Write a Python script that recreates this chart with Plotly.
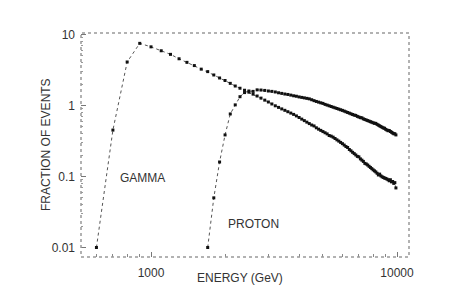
import plotly.graph_objects as go

# ---------------- data ----------------
gamma_energy = [600, 700, 800, 900, 1000, 1100, 1200, 1300, 1400, 1500,
                1600, 1700, 1800, 1900, 2000, 2100, 2200, 2300, 2400, 2500,
                2600, 2700, 2800, 2900, 3000, 3100, 3200, 3300, 3400, 3500,
                3600, 3700, 3800, 3900, 4000, 4100, 4200, 4300, 4400, 4500,
                4600, 4700, 4800, 4900, 5000, 5100, 5200, 5300, 5400, 5500,
                5600, 5700, 5800, 5900, 6000, 6100, 6200, 6300, 6400, 6500,
                6600, 6700, 6800, 6900, 7000, 7100, 7200, 7300, 7400, 7500,
                7600, 7700, 7800, 7900, 8000, 8100, 8200, 8300, 8400, 8500,
                8600, 8700, 8800, 8900, 9000, 9100, 9200, 9300, 9400, 9500,
                9600, 9700, 9800, 9900]
gamma_fraction = [0.010, 0.45, 4.1, 7.5, 6.7, 5.9, 5.25, 4.55, 4.05, 3.65,
                  3.25, 3.0, 2.69, 2.44, 2.25, 2.05, 1.88, 1.75, 1.64, 1.54,
                  1.445, 1.36, 1.27, 1.19, 1.12, 1.05, 0.99, 0.94, 0.895, 0.855,
                  0.817, 0.782, 0.749, 0.713, 0.677, 0.643, 0.612, 0.583, 0.556, 0.531,
                  0.515, 0.485, 0.464, 0.446, 0.429, 0.413, 0.398, 0.378, 0.370, 0.358,
                  0.343, 0.328, 0.315, 0.302, 0.290, 0.277, 0.264, 0.256, 0.240, 0.230,
                  0.219, 0.210, 0.201, 0.192, 0.189, 0.177, 0.170, 0.163, 0.153, 0.150,
                  0.145, 0.139, 0.134, 0.129, 0.124, 0.120, 0.116, 0.111, 0.105, 0.108,
                  0.102, 0.099, 0.097, 0.095, 0.094, 0.092, 0.090, 0.087, 0.090, 0.084,
                  0.085, 0.080, 0.082, 0.069]

proton_energy = [1700, 1800, 1900, 2000, 2100, 2200, 2300, 2400, 2500,
                 2600, 2700, 2800, 2900, 3000, 3100, 3200, 3300, 3400, 3500,
                 3600, 3700, 3800, 3900, 4000, 4100, 4200, 4300, 4400, 4500,
                 4600, 4700, 4800, 4900, 5000, 5100, 5200, 5300, 5400, 5500,
                 5600, 5700, 5800, 5900, 6000, 6100, 6200, 6300, 6400, 6500,
                 6600, 6700, 6800, 6900, 7000, 7100, 7200, 7300, 7400, 7500,
                 7600, 7700, 7800, 7900, 8000, 8100, 8200, 8300, 8400, 8500,
                 8600, 8700, 8800, 8900, 9000, 9100, 9200, 9300, 9400, 9500,
                 9600, 9700, 9800, 9900]
proton_fraction = [0.010, 0.050, 0.16, 0.385, 0.76, 1.02, 1.33, 1.52, 1.60,
                   1.58, 1.66, 1.65, 1.63, 1.60, 1.58, 1.55, 1.51, 1.48, 1.45,
                   1.43, 1.40, 1.37, 1.35, 1.32, 1.30, 1.28, 1.26, 1.24, 1.205,
                   1.17, 1.14, 1.115, 1.09, 1.07, 1.036, 1.013, 0.990, 0.968, 0.946,
                   0.927, 0.907, 0.888, 0.870, 0.853, 0.834, 0.815, 0.797, 0.780, 0.763,
                   0.746, 0.731, 0.725, 0.702, 0.688, 0.674, 0.670, 0.648, 0.636, 0.624,
                   0.613, 0.602, 0.591, 0.581, 0.570, 0.561, 0.560, 0.542, 0.529, 0.517,
                   0.505, 0.493, 0.482, 0.478, 0.461, 0.451, 0.441, 0.445, 0.430, 0.420,
                   0.410, 0.400, 0.400, 0.385]

x_tickvals = [1000, 10000]
x_ticktext = ["1000", "10000"]
x_minor = [600, 700, 800, 900, 2000, 3000, 4000, 5000, 6000, 7000, 8000, 9000]
y_tickvals = [0.01, 0.1, 1, 10]
y_ticktext = ["0.01", "0.1", "1", "10"]
y_minor = [0.02, 0.03, 0.04, 0.05, 0.06, 0.07, 0.08, 0.09,
           0.2, 0.3, 0.4, 0.5, 0.6, 0.7, 0.8, 0.9,
           2, 3, 4, 5, 6, 7, 8, 9]

FONT = "Liberation Sans, Arial, sans-serif"
TXT = "#333333"

fig = go.Figure()
for xs, ys in ((gamma_energy, gamma_fraction), (proton_energy, proton_fraction)):
    fig.add_trace(go.Scatter(
        x=xs, y=ys, mode="lines+markers",
        line=dict(color="#555555", width=1, dash="dot"),
        marker=dict(symbol="square", size=3, color="#111111", line=dict(width=0)),
        showlegend=False, hoverinfo="skip"))

axis_common = dict(type="log", showgrid=False, zeroline=False, showline=False,
                   ticks="inside", ticklen=5, tickcolor="#777777", tickwidth=1,
                   tickfont=dict(family=FONT, size=12, color=TXT))

fig.update_xaxes(range=[2.7154, 4.0488], tickmode="array", tickvals=x_tickvals,
                 ticktext=x_ticktext, ticklabelstandoff=7,
                 minor=dict(ticks="inside", ticklen=3, tickcolor="#888888",
                            tickmode="array", tickvals=x_minor, showgrid=False),
                 **axis_common)
fig.update_yaxes(range=[-2.134, 1.021], tickmode="array", tickvals=y_tickvals,
                 ticktext=y_ticktext, ticklabelstandoff=5,
                 minor=dict(ticks="inside", ticklen=2, tickcolor="#999999",
                            tickmode="array", tickvals=y_minor, showgrid=False),
                 **axis_common)

# dotted frame
fig.add_shape(type="rect", xref="paper", yref="paper", x0=0, y0=0, x1=1, y1=1,
              line=dict(color="#999999", width=1.5, dash="dot"))

annots = [
    dict(text="GAMMA", x=2.967, y=-1.021, xref="x", yref="y"),
    dict(text="PROTON", x=3.415, y=-1.669, xref="x", yref="y"),
]
for a in annots:
    fig.add_annotation(showarrow=False, font=dict(family=FONT, size=12, color=TXT), **a)

fig.add_annotation(text="ENERGY (GeV)", xref="paper", yref="paper",
                   x=0.485, y=-0.093, yanchor="middle", showarrow=False,
                   font=dict(family=FONT, size=12, color=TXT))
fig.add_annotation(text="FRACTION OF EVENTS", xref="paper", yref="paper",
                   x=-0.134, y=0.5, textangle=-90, showarrow=False,
                   font=dict(family=FONT, size=12, color=TXT))

fig.update_layout(width=452, height=307,
                  margin=dict(l=81, r=43, t=33, b=50, autoexpand=False),
                  paper_bgcolor="white", plot_bgcolor="white")

fig.write_html("out.html",
               config={"displayModeBar": False, "staticPlot": True},
               post_script="document.body.style.margin='0';document.body.style.padding='0';")
